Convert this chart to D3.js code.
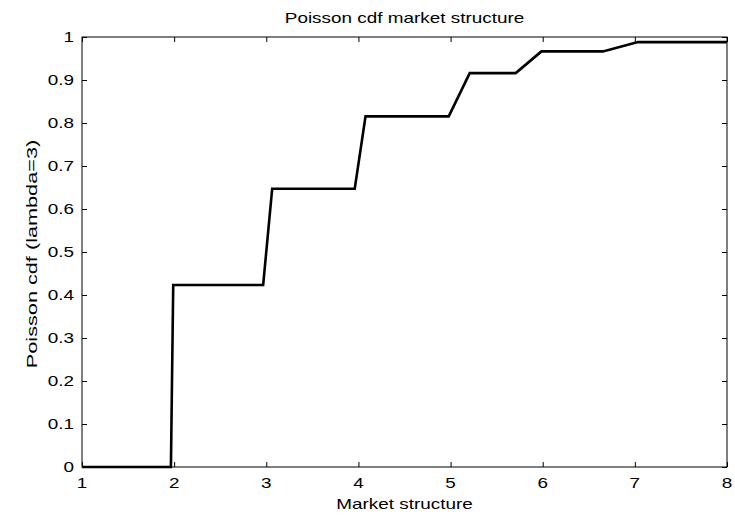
<!DOCTYPE html>
<html>
<head>
<meta charset="utf-8">
<script src="https://cdn.jsdelivr.net/npm/d3@7"></script>
<style>
  html, body { margin: 0; padding: 0; background: #fff; }
  svg { display: block; }
  text { font-family: "Liberation Sans", Arial, Helvetica, sans-serif; fill: #000; }
</style>
</head>
<body>
<svg id="chart" width="735" height="516"></svg>
<script>
// ---- data ----
const xValues = [1, 1.965, 1.99, 2.966, 3.064, 3.96, 4.077, 4.98, 5.208, 5.707, 5.986, 6.654, 7.034, 8];
const yValues = [0, 0, 0.4232, 0.4232, 0.6472, 0.6472, 0.8153, 0.8153, 0.9161, 0.9161, 0.9665, 0.9665, 0.9881, 0.9881];
const xTicks = [1, 2, 3, 4, 5, 6, 7, 8];
const yTicks = [0, 0.1, 0.2, 0.3, 0.4, 0.5, 0.6, 0.7, 0.8, 0.9, 1];
const titleText = "Poisson cdf market structure";
const xLabelText = "Market structure";
const yLabelText = "Poisson cdf (lambda=3)";

(function () {
// ---- layout ----
const mL = 82, mR = 727, mT = 37, mB = 467;
const SX = 1.35;    // horizontal text stretch seen in the reference
const fontSize = 14;

const svg = d3.select("#chart");
const x = d3.scaleLinear().domain([1, 8]).range([mL, mR]);
const y = d3.scaleLinear().domain([0, 1]).range([mB, mT]);

const fmt = d => (d === 0 || d === 1) ? String(d) : d3.format(".1f")(d);

function stretchedText(g, tx, ty, str, anchor) {
  const t = g.append("g").attr("transform", `translate(${tx},${ty}) scale(${SX},1)`);
  t.append("text")
    .attr("text-anchor", anchor)
    .style("font-size", fontSize + "px")
    .text(str);
  return t;
}

// axes box
svg.append("rect")
  .attr("x", mL).attr("y", mT)
  .attr("width", mR - mL).attr("height", mB - mT)
  .attr("fill", "none").attr("stroke", "#000").attr("stroke-width", 1);

const tickLen = 5;
const xAxisB = d3.axisBottom(x).tickValues(xTicks).tickSizeInner(-tickLen).tickSizeOuter(0).tickFormat("");
const xAxisT = d3.axisTop(x).tickValues(xTicks).tickSizeInner(-tickLen).tickSizeOuter(0).tickFormat("");
const yAxisL = d3.axisLeft(y).tickValues(yTicks).tickSizeInner(-tickLen).tickSizeOuter(0).tickFormat("");
const yAxisR = d3.axisRight(y).tickValues(yTicks).tickSizeInner(-tickLen).tickSizeOuter(0).tickFormat("");

function styleAxis(g) {
  g.select(".domain").remove();
  g.selectAll(".tick line").attr("stroke", "#000").attr("stroke-width", 1);
}
svg.append("g").attr("transform", `translate(0,${mB})`).call(xAxisB).call(styleAxis);
svg.append("g").attr("transform", `translate(0,${mT})`).call(xAxisT).call(styleAxis);
svg.append("g").attr("transform", `translate(${mL},0)`).call(yAxisL).call(styleAxis);
svg.append("g").attr("transform", `translate(${mR},0)`).call(yAxisR).call(styleAxis);

// tick labels
const labels = svg.append("g");
xTicks.forEach(v => stretchedText(labels, x(v), mB + 21, String(v), "middle"));
yTicks.forEach(v => stretchedText(labels, mL - 8, y(v) + 5, fmt(v), "end"));

// line
const line = d3.line().x((d, i) => x(xValues[i])).y((d, i) => y(yValues[i]));
svg.append("path")
  .datum(xValues)
  .attr("d", line)
  .attr("fill", "none")
  .attr("stroke", "#000")
  .attr("stroke-width", 2.6)
  .attr("stroke-linejoin", "miter");

// title & axis labels
stretchedText(svg, (mL + mR) / 2, 23, titleText, "middle");
stretchedText(svg, (mL + mR) / 2, 509, xLabelText, "middle");
svg.append("g")
  .attr("transform", `translate(37,${(mT + mB) / 2 + 2}) rotate(-90) scale(1.55,1.1)`)
  .append("text")
  .attr("text-anchor", "middle")
  .style("font-size", fontSize + "px")
  .text(yLabelText);
})();
</script>
</body>
</html>
